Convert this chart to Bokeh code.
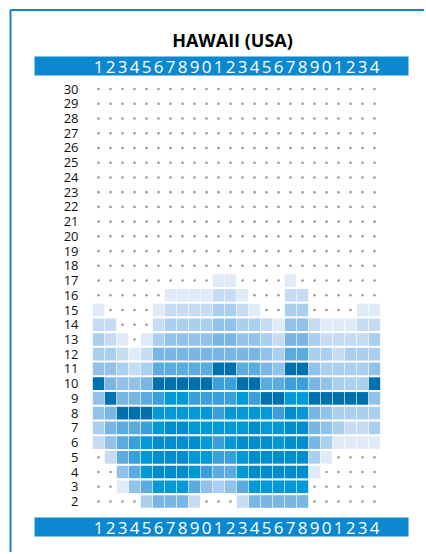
from bokeh.plotting import figure
from bokeh.models import ColumnDataSource, Range1d
from bokeh.core.properties import value
from bokeh.embed import file_html
from bokeh.resources import INLINE

# ---------------- data ----------------
title = "HAWAII (USA)"
hour_labels = list("123456789012345678901234")
row_labels = list(range(30, 1, -1))

# intensity level per hour (0 = no data -> dot), rows 17 down to 2
r17 = [0,0,0,0,0,0,0,0,0,0,1,1,0,0,0,0,1,0,0,0,0,0,0,0]
r16 = [0,0,0,0,0,0,1,1,1,1,2,2,1,0,0,0,2,2,0,0,0,0,0,0]
r15 = [1,0,0,0,0,1,2,2,2,2,3,3,2,1,0,0,3,3,0,0,0,0,1,1]
r14 = [2,2,0,0,0,2,3,3,3,3,4,4,3,3,2,1,4,4,2,1,1,1,2,2]
r13 = [3,2,1,0,1,3,4,4,4,4,5,5,4,4,3,2,5,5,3,2,2,2,2,3]
r12 = [3,3,2,1,2,5,5,5,5,5,5,5,5,5,4,3,6,6,3,3,2,3,3,3]
r11 = [4,4,3,2,3,6,6,6,6,6,10,10,6,6,5,4,10,10,4,3,3,3,3,4]
r10 = [10,5,4,4,5,10,10,10,10,10,7,7,10,10,6,6,7,7,5,4,3,3,3,10]
r9  = [4,10,5,5,6,7,8,8,7,7,7,7,8,7,10,10,8,8,10,10,10,10,10,4]
r8  = [4,5,10,10,10,8,8,8,8,8,7,8,8,8,8,7,9,8,5,4,3,3,3,3]
r7  = [3,5,6,6,7,8,9,9,8,8,8,8,8,9,8,8,9,9,5,4,3,2,2,3]
r6  = [2,4,6,7,8,9,9,9,9,8,7,8,9,9,9,8,9,9,5,3,1,1,1,1]
r5  = [0,2,6,7,8,9,9,9,8,8,7,7,8,9,9,9,9,9,3,1,0,0,0,0]
r4  = [0,0,4,6,8,9,9,9,8,7,6,6,8,9,9,9,9,9,1,0,0,0,0,0]
r3  = [0,0,1,4,6,8,8,8,6,4,3,4,6,8,8,8,8,8,0,0,0,0,0,0]
r2  = [0,0,0,0,3,5,5,5,2,0,0,0,2,5,5,5,5,5,0,0,0,0,0,0]
data_rows = {17: r17, 16: r16, 15: r15, 14: r14, 13: r13, 12: r12, 11: r11,
             10: r10, 9: r9, 8: r8, 7: r7, 6: r6, 5: r5, 4: r4, 3: r3, 2: r2}

palette = ["#ffffff", "#e1ebf8", "#c7dcf2", "#abcfee", "#92c2e9", "#7ab6e3",
           "#5babe0", "#3a9fda", "#0399d8", "#008dcf", "#0071ae"]

# ---------------- layout helpers (page pixel -> data) ----------------
W, H = 424, 552
X0, Y0 = 0, 0          # page offset of the canvas
PITCH = 14.73
def cx(px):   # page x pixel -> column units
    return (px - 86) / 12.0
def ry(py):   # page y pixel -> row units
    return 2 + (501 - py) / PITCH

p = figure(width=W, height=H, output_backend="svg", toolbar_location=None,
           x_range=Range1d(cx(X0), cx(X0 + W)), y_range=Range1d(ry(Y0 + H), ry(Y0)),
           x_axis_type=None, y_axis_type=None, min_border=0)
p.grid.visible = False
p.outline_line_color = None
p.background_fill_color = "white"

# frame
p.quad(left=[cx(10)], right=[cx(900)], top=[ry(9.5)], bottom=[ry(900)],
       fill_color=None, line_color="#0b88cf", line_width=2)

# cells and dots
cx_l, cy_l, cc_l, dx_l, dy_l = [], [], [], [], []
for r in row_labels:
    vals = data_rows.get(r, [0] * 24)
    for i, v in enumerate(vals):
        if v > 0:
            cx_l.append(i + 1); cy_l.append(r); cc_l.append(palette[v])
        else:
            dx_l.append(i + 1); dy_l.append(r)
p.rect(x="x", y="y", width=0.95, height=0.86, fill_color="c", line_color=None,
       source=ColumnDataSource(dict(x=cx_l, y=cy_l, c=cc_l)))
p.scatter(x=dx_l, y=dy_l, size=2.6, marker="circle", fill_color="#9a9a9a", line_color=None)

# row labels
p.text(x=[cx(78)] * len(row_labels), y=row_labels, text=[str(r) for r in row_labels],
       text_align="right", text_baseline="middle", text_color="#111111",
       text_font=value("Open Sans"), text_font_size=value("13px"))

# hour bands
cols = list(range(1, 25))
for yc_top, yc_bot in [(56, 75), (517, 536)]:
    p.quad(left=[cx(34)], right=[cx(408)], top=[ry(yc_top)], bottom=[ry(yc_bot)],
           fill_color="#0b88cf", line_color=None)
    p.text(x=cols, y=[ry((yc_top + yc_bot) / 2 + 0.5)] * 24, text=hour_labels,
           text_align="center", text_baseline="middle", text_color="white",
           text_font=value("Open Sans"), text_font_size=value("17px"))

# title
p.text(x=[cx(232)], y=[ry(39)], text=[title], text_align="center", text_baseline="middle",
       text_color="#000000", text_font=value("Open Sans"), text_font_style="bold",
       text_font_size=value("18px"))

open("out.html", "w").write(file_html(p, INLINE))
